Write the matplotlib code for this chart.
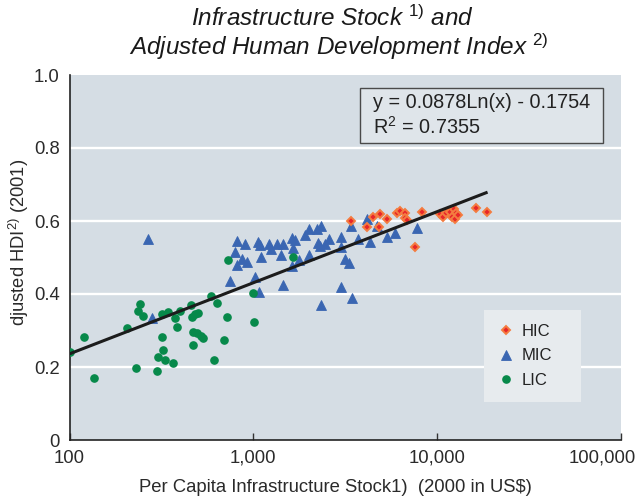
import matplotlib
matplotlib.use("Agg")
import matplotlib.pyplot as plt
import matplotlib.transforms as mtransforms
from matplotlib.patches import Rectangle
from matplotlib.ticker import NullLocator

plt.rcParams['font.family'] = ['Liberation Sans', 'DejaVu Sans']
plt.rcParams['mathtext.fontset'] = 'custom'
plt.rcParams['mathtext.rm'] = 'Liberation Sans'
plt.rcParams['mathtext.it'] = 'Liberation Sans:italic'
plt.rcParams['mathtext.bf'] = 'Liberation Sans:bold'

# ---------------- data ----------------
lic_x = [100, 120, 136, 205, 230, 242, 236, 251, 299, 318, 343, 374, 399, 384,
         457, 463, 481, 499, 318, 322, 303, 330, 365, 469, 493, 518, 531, 469,
         587, 633, 718, 1006, 691, 610, 994, 727, 1640]
lic_y = [0.241, 0.282, 0.170, 0.307, 0.197, 0.373, 0.353, 0.340, 0.189, 0.345,
         0.351, 0.334, 0.353, 0.310, 0.370, 0.337, 0.345, 0.348, 0.282, 0.247,
         0.227, 0.219, 0.211, 0.296, 0.293, 0.285, 0.279, 0.260, 0.395, 0.375,
         0.337, 0.323, 0.274, 0.219, 0.403, 0.493, 0.501]

mic_x = [267, 281, 813, 899, 1058, 1085, 1214, 1245, 1342, 1447, 1619, 1681,
         1905, 2003, 2214, 2328, 793, 866, 922, 813, 1098, 1411, 1640, 2003,
         1767, 1619, 745, 1019, 1071, 1447, 2241, 2298, 2446, 2572, 2989, 2989,
         3698, 4296, 5315, 5875, 3388, 4140, 4690, 7735, 3142, 3304, 2989, 3430,
         2328]
mic_y = [0.551, 0.334, 0.545, 0.537, 0.542, 0.534, 0.537, 0.523, 0.537, 0.537,
         0.553, 0.548, 0.562, 0.578, 0.578, 0.586, 0.515, 0.496, 0.488, 0.479,
         0.501, 0.507, 0.526, 0.507, 0.493, 0.477, 0.436, 0.447, 0.405, 0.425,
         0.540, 0.532, 0.537, 0.551, 0.556, 0.529, 0.551, 0.542, 0.556, 0.567,
         0.586, 0.605, 0.586, 0.581, 0.496, 0.485, 0.419, 0.389, 0.370]

hic_x = [3388, 4140, 4460, 4870, 5315, 4810, 6025, 6252, 6656, 6656, 6825,
         8237, 7545, 10320, 10715, 11125, 11700, 12300, 12610, 11990, 12450,
         12920, 16190, 18580]
hic_y = [0.600, 0.584, 0.611, 0.619, 0.605, 0.584, 0.622, 0.627, 0.622, 0.608,
         0.603, 0.625, 0.529, 0.619, 0.611, 0.622, 0.625, 0.633, 0.622, 0.611,
         0.605, 0.616, 0.636, 0.625]

trend_x = [100, 18800]
trend_y = [0.236, 0.679]

x_ticks = [100, 1000, 10000, 100000]
x_ticklabels = ["100", "1,000", "10,000", "100,000"]
y_ticks = [0, 0.2, 0.4, 0.6, 0.8, 1.0]
y_ticklabels = ["0", "0.2", "0.4", "0.6", "0.8", "1.0"]

equation_text = "y = 0.0878Ln(x) - 0.1754"
r2_text = "R$^{2}$ = 0.7355"

# ---------------- figure ----------------
W, H = 643, 498
fig = plt.figure(figsize=(W / 100, H / 100), dpi=100)
fx = lambda px: px / W
fy = lambda py: 1 - py / H

ax = fig.add_axes([fx(69.5), fy(440), (621 - 69.5) / W, 365 / H])
ax.set_facecolor('#d5dde4')
ax.set_xscale('log')
ax.set_xlim(100, 100000)
ax.set_ylim(0, 1.0)
ax.set_axisbelow(True)

for s in ['top', 'right']:
    ax.spines[s].set_visible(False)
for s in ['left', 'bottom']:
    ax.spines[s].set_color('#222222')
    ax.spines[s].set_linewidth(1.2)

ax.set_xticks(x_ticks)
ax.set_xticklabels(x_ticklabels)
ax.xaxis.set_minor_locator(NullLocator())
ax.set_yticks(y_ticks)
ax.set_yticklabels(y_ticklabels)
ax.tick_params(axis='x', direction='in', length=5, width=1, color='#333333',
               pad=7, labelsize=13.3, labelcolor='#2a2a2a')
ax.tick_params(axis='y', length=0, pad=7, labelsize=13.3, labelcolor='#2a2a2a')

# shift the last x tick label left so it stays inside the figure
last_lab = ax.xaxis.get_major_ticks()[-1].label1
last_lab.set_transform(last_lab.get_transform() +
                       mtransforms.ScaledTranslation(-0.19, 0, fig.dpi_scale_trans))

for yv in [0.2, 0.4, 0.6, 0.8]:
    ax.axhline(yv, color='white', lw=1.7, zorder=0.5)

lic_line, = ax.plot(lic_x, lic_y, linestyle='none', marker='o', ms=5.2,
                    mfc='#07894a', mec='#07894a', zorder=3, label='LIC')
mic_line, = ax.plot(mic_x, mic_y, linestyle='none', marker='^', ms=7.4,
                    mfc='#3a66b2', mec='#3a66b2', mew=0.6, zorder=2, label='MIC')
hic_line, = ax.plot(hic_x, hic_y, linestyle='none', marker='D', ms=4.2,
                    mfc='#e8262a', mec='#f47c40', mew=1.4, zorder=4, label='HIC')
ax.plot(trend_x, trend_y, color='#1c1c1c', lw=2.2, zorder=5,
        solid_capstyle='butt')

lx0 = (484 - 69.5) / 551.5
ly1 = (440 - 310) / 365
lw_ = (581 - 484) / 551.5
leg = ax.legend(handles=[hic_line, mic_line, lic_line], loc='upper left',
                bbox_to_anchor=(lx0, ly1 - 0.3, lw_, 0.3), mode='expand',
                frameon=True, fancybox=False, fontsize=12, handlelength=0.9,
                handletextpad=0.5, labelspacing=0.55, borderpad=0.85,
                borderaxespad=0)
leg.get_frame().set_facecolor('#e7ebee')
leg.get_frame().set_edgecolor('none')
leg.get_frame().set_alpha(1)
for t in leg.get_texts():
    t.set_color('#222222')

# equation box
box = Rectangle((fx(360), fy(143)), (603 - 360) / W, 55 / H,
                transform=fig.transFigure, facecolor='#dfe5ea',
                edgecolor='#4a4a4a', lw=1.0, zorder=10)
fig.add_artist(box)
fig.text(fx(373), fy(102), equation_text, fontsize=14.3, color='#222222',
         ha='left', va='center', zorder=11)
fig.text(fx(373), fy(127), r2_text, fontsize=14.3, color='#222222',
         ha='left', va='center', zorder=11)

# titles
fig.text(fx(332), fy(18), r"Infrastructure Stock $^{\mathit{1)}}$ and",
         fontsize=17.5, style='italic', ha='center', va='center', color='#1a1a1a')
fig.text(fx(339), fy(47), r"Adjusted Human Development Index $^{\mathit{2)}}$",
         fontsize=17.5, style='italic', ha='center', va='center', color='#1a1a1a')

# axis labels
fig.text(fx(19), fy(242), r"djusted HDI$^{2)}$ (2001)", rotation=90,
         fontsize=13.2, ha='center', va='center', color='#2a2a2a')
fig.text(fx(335), fy(487), "Per Capita Infrastructure Stock1)  (2000 in US\\$)",
         fontsize=13.3, ha='center', va='center', color='#2a2a2a')

fig.savefig('out.png', dpi=100)
